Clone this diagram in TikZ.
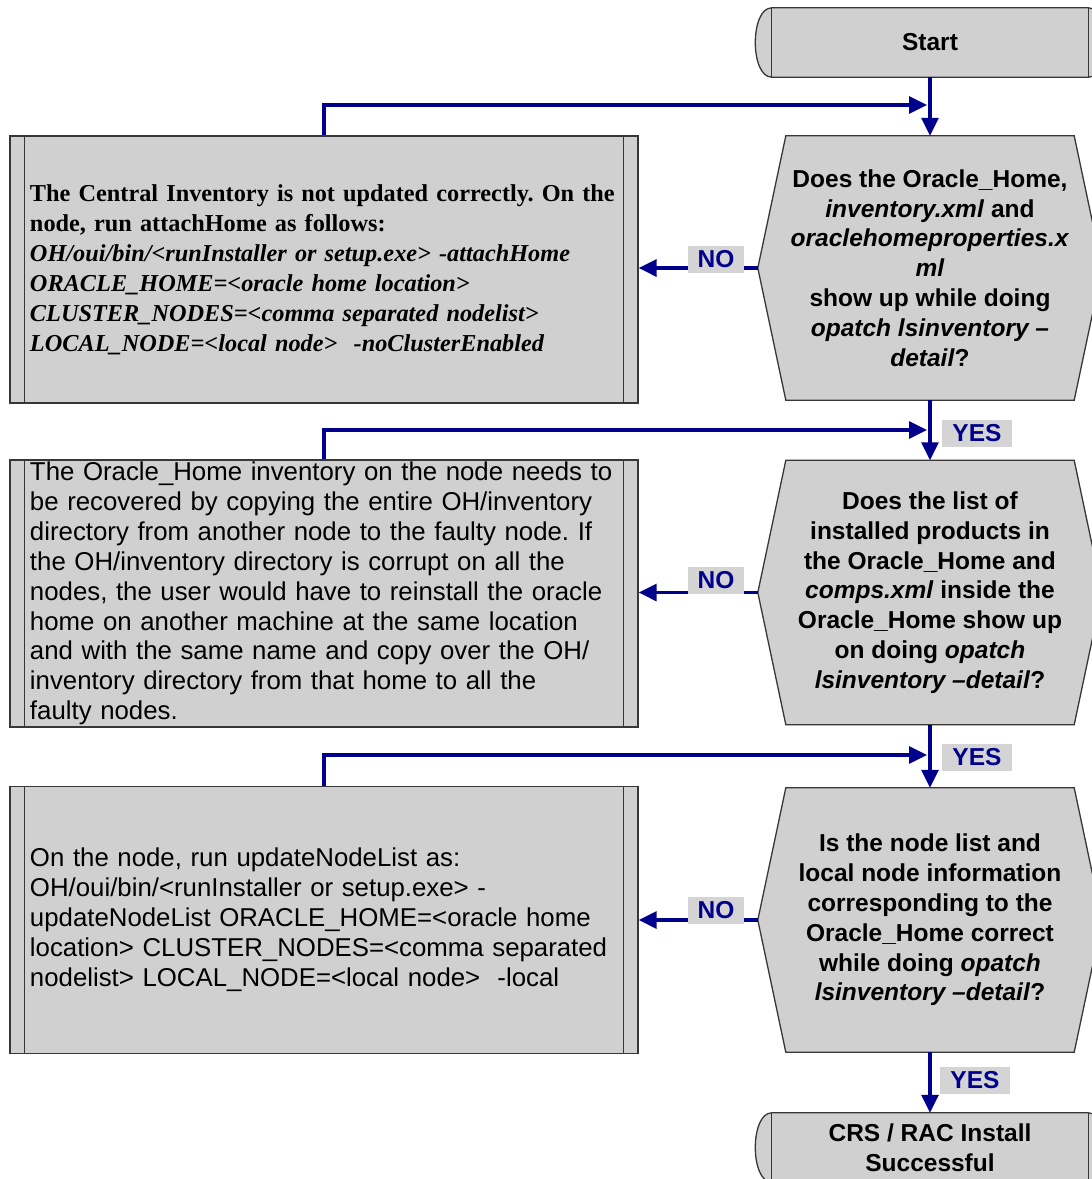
\documentclass[tikz,border=0pt]{standalone}
\usepackage{fontspec}
\setmainfont{Liberation Sans}
\newfontfamily\timesfont{Liberation Serif}
\usetikzlibrary{arrows.meta,calc,backgrounds}
\definecolor{flowblue}{RGB}{0,0,140}
\definecolor{boxgray}{RGB}{208,208,208}
\definecolor{lblgray}{RGB}{212,212,212}
\definecolor{edgegray}{RGB}{55,55,55}
\tikzset{
  shapeline/.style={draw=edgegray, line width=1.3pt, fill=boxgray},
  innerline/.style={draw=edgegray, line width=1.3pt},
  terminal/.style={minimum width=316pt, minimum height=69pt, inner sep=0pt, align=center,
    font=\fontsize{24.5}{30}\selectfont\bfseries},
  decision/.style={minimum width=344pt, minimum height=264pt, inner sep=0pt, align=center,
    font=\fontsize{24.5}{29.8}\selectfont\bfseries},
  procbox/.style={shapeline, minimum width=628pt, minimum height=267pt, inner xsep=20pt,
    inner ysep=0pt, text width=588pt, align=left},
  conn/.style={draw=flowblue, line width=3.2pt, -{Triangle[length=18pt,width=17pt]}},
  lbl/.style={fill=lblgray, text=flowblue, font=\fontsize{24.5}{28}\selectfont\bfseries,
    inner xsep=10pt, inner ysep=2pt, minimum height=27pt}
}
\begin{document}
\frenchspacing
\begin{tikzpicture}[x=1pt,y={(0pt,-1pt)}]
\clip (0,0) rectangle (1092,1179);

% terminals and decisions
\node[terminal] (start) at (930,42.5) {Start};
\node[decision] (d1) at (930,268) {Does the Oracle\_Home,\\ \textit{inventory.xml} and\\ \textit{oraclehomeproperties.x}\\ \textit{ml}\\ show up while doing\\ \textit{opatch lsinventory –}\\ \textit{detail}?};
\node[decision] (d2) at (930,592.5) {Does the list of\\ installed products in\\ the Oracle\_Home and\\ \textit{comps.xml} inside the\\ Oracle\_Home show up\\ on doing \textit{opatch}\\ \textit{lsinventory –detail}?};
\node[decision] (d3) at (930,920) {Is the node list and\\ local node information\\ corresponding to the\\ Oracle\_Home correct\\ while doing \textit{opatch}\\ \textit{lsinventory –detail}?};
\node[terminal] (end) at (930,1147.5) {CRS / RAC Install\\ Successful};

% process boxes
\node[procbox, font=\timesfont\fontsize{24.3}{30}\selectfont\bfseries\frenchspacing] (b1) at (324,269.5) {The Central Inventory is not updated correctly. On the\\ node, run attachHome as follows:\\ \textit{OH/oui/bin/<runInstaller or setup.exe> -attachHome}\\ \textit{ORACLE\_HOME=<oracle home location>}\\ \textit{CLUSTER\_NODES=<comma separated nodelist>}\\ \textit{LOCAL\_NODE=<local node>~ -noClusterEnabled}};
\node[procbox, font=\fontsize{25.8}{29.9}\selectfont\frenchspacing] (b2) at (324,593.5) {The Oracle\_Home inventory on the node needs to\\ be recovered by copying the entire OH/inventory\\ directory from another node to the faulty node. If\\ the OH/inventory directory is corrupt on all the\\ nodes, the user would have to reinstall the oracle\\ home on another machine at the same location\\ and with the same name and copy over the OH/\\ inventory directory from that home to all the\\ faulty nodes.};
\node[procbox, font=\fontsize{25.8}{30}\selectfont\frenchspacing] (b3) at (324,920) {On the node, run updateNodeList as:\\ OH/oui/bin/<runInstaller or setup.exe> -\\ updateNodeList ORACLE\_HOME=<oracle home\\ location> CLUSTER\_NODES=<comma separated\\ nodelist> LOCAL\_NODE=<local node>~ -local};

\foreach \b in {b1,b2,b3}{
  \draw[innerline] ([xshift=15pt]\b.north west) -- ([xshift=15pt]\b.south west);
  \draw[innerline] ([xshift=-15pt]\b.north east) -- ([xshift=-15pt]\b.south east);
}

\begin{scope}[on background layer]
\foreach \n in {d1,d2,d3}{
  \path[shapeline] (\n.west) -- ([xshift=28pt]\n.north west) -- ([xshift=-28pt]\n.north east)
    -- (\n.east) -- ([xshift=-28pt]\n.south east) -- ([xshift=28pt]\n.south west) -- cycle;
}
\foreach \n in {start,end}{
  \path[shapeline] (\n.north west) -- (\n.north east)
    .. controls ([xshift=22pt]\n.north east) and ([xshift=22pt]\n.south east) .. (\n.south east)
    -- (\n.south west)
    .. controls ([xshift=-22pt]\n.south west) and ([xshift=-22pt]\n.north west) .. (\n.north west)
    -- cycle;
  \draw[innerline] (\n.north west) -- (\n.south west);
  \draw[innerline] (\n.north east) -- (\n.south east);
}
\end{scope}

% junction points
\coordinate (j1) at (927,105);
\coordinate (j2) at (927,430);
\coordinate (j3) at (927,755);

% connectors
\draw[conn] (start.south) -- (d1.north);
\draw[conn] (b1.north) |- (j1);
\draw[conn] (d1.west) -- (d1.west -| b1.east);
\draw[conn] (d1.south) -- (d2.north);
\draw[conn] (b2.north) |- (j2);
\draw[conn] (d2.west) -- (d2.west -| b2.east);
\draw[conn] (d2.south) -- (d3.north);
\draw[conn] (b3.north) |- (j3);
\draw[conn] (d3.west) -- (d3.west -| b3.east);
\draw[conn] (d3.south) -- (end.north);

% labels
\node[lbl] (no1) at (716,259) {NO};
\node[lbl] (no2) at (716,580) {NO};
\node[lbl] (no3) at (716,910) {NO};
\node[lbl] (yes1) at (977,433) {YES};
\node[lbl] (yes2) at (977,757) {YES};
\node[lbl] (yes3) at (975,1080) {YES};
\end{tikzpicture}
\end{document}
